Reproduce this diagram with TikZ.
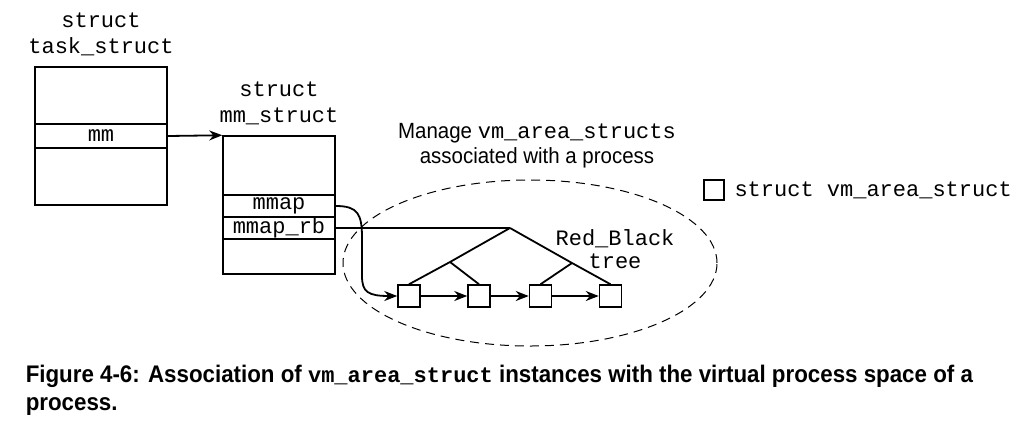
\documentclass[tikz,border=0pt]{standalone}
\usepackage{fontspec}
\setmainfont[FakeStretch=0.93]{Liberation Sans}
\setmonofont{Liberation Mono}
\usetikzlibrary{arrows.meta,positioning,shapes.geometric}

\begin{document}
\begin{tikzpicture}[
  x=0.5pt, y=-0.5pt, >={Stealth[length=6.5pt,width=5pt]}, line width=0.75pt,
  field/.style={rectangle, draw, inner sep=0pt, font=\fontsize{11}{13}\selectfont\ttfamily},
  taskrow/.style={field, minimum width=66pt},
  mmrow/.style={field, minimum width=56pt},
  vma/.style={rectangle, draw, minimum size=11pt, inner sep=0pt},
  link/.style={line width=0.9pt},
  title/.style={align=center, inner sep=0pt, font=\fontsize{11}{13}\selectfont\ttfamily},
]
  \useasboundingbox (0,0) rectangle (1031,430);

  \node[taskrow, minimum height=28.5pt] (taskTop) at (101,95.5) {};
  \node[taskrow, minimum height=12pt] (taskMm) at (101,136) {mm};
  \node[taskrow, minimum height=28.5pt] (taskBot) at (101,176.5) {};
  \node[title, above=5pt of taskTop] (taskLbl) {struct\\task\_struct};

  \node[mmrow, minimum height=29.5pt] (mmTop) at (279,165.5) {};
  \node[mmrow, minimum height=11pt] (mmMmap) at (279,206) {mmap};
  \node[mmrow, minimum height=11pt] (mmRb) at (279,228) {mmap\_rb};
  \node[mmrow, minimum height=17.5pt] (mmBot) at (279,256.5) {};
  \node[title, above=5pt of mmTop] (mmLbl) {struct\\mm\_struct};

  \node[align=center, inner sep=0pt, font=\fontsize{11}{12.5}\selectfont] (manage) at (537,146)
    {Manage {\ttfamily vm\_area\_structs}\\associated with a process};
  \node[ellipse, draw, line width=0.5pt, dash pattern=on 4.5pt off 3pt,
    minimum width=187pt, minimum height=83pt] (area) at (530,263) {};

  \node[vma] (v1) at (409,296) {};
  \node[vma] (v2) at (479,296) {};
  \node[vma] (v3) at (540.5,296) {};
  \node[vma] (v4) at (610.5,296) {};
  \coordinate (root) at (510,228);
  \coordinate (lc) at (450,262);
  \coordinate (rc) at (572,263);
  \node[title, font=\fontsize{11}{11.5}\selectfont\ttfamily] (rbLbl) at (615,249) {Red\_Black\\tree};

  \node[vma, minimum size=10pt] (key) at (714,190) {};
  \node[right=4.5pt of key, inner sep=0pt, font=\fontsize{11}{13}\selectfont\ttfamily] (keyLbl) {struct vm\_area\_struct};

  \node[anchor=base west, align=left, inner sep=0pt, font=\fontsize{12}{14}\selectfont\bfseries] (caption) at (25,410)
    {Figure 4-6: Association of {\fontsize{11}{14}\selectfont\ttfamily vm\_area\_struct} instances with the virtual process space of a\\process.};

  \draw[link, ->] (taskMm.east) -- (mmTop.north west);
  \draw[link] (mmRb.east) -- (root);
  \draw[link] (root) -- (lc) -- (v1.north);
  \draw[link] (lc) -- (v2.north);
  \draw[link] (root) -- (rc) -- (v4.north);
  \draw[link] (rc) -- (v3.north);
  \draw[link, ->] (mmMmap.east) .. controls (358,206) and (362,214) .. (362,238)
    -- (362,276) .. controls (362,292) and (368,296) .. (v1.west);
  \draw[link, ->] (v1) -- (v2);
  \draw[link, ->] (v2) -- (v3);
  \draw[link, ->] (v3) -- (v4);
\end{tikzpicture}
\end{document}
